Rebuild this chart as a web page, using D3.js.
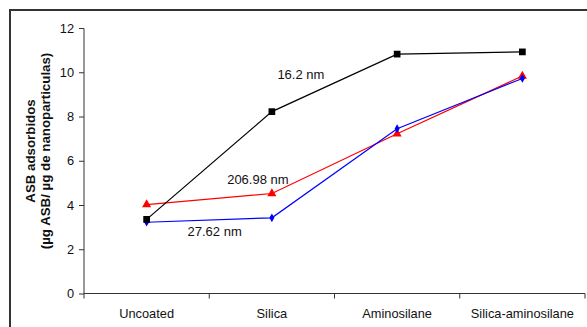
<!DOCTYPE html>
<html><head><meta charset="utf-8">
<script src="https://cdn.jsdelivr.net/npm/d3@7"></script>
<style>body{margin:0;background:#fff}svg{display:block;font-family:"Liberation Sans",Arial,sans-serif}</style>
</head><body><svg id="c" width="587" height="327"></svg>
<script>
const categories = ["Uncoated","Silica","Aminosilane","Silica-aminosilane"];
const yTicks = [0,2,4,6,8,10,12];
const black = [3.35, 8.22, 10.82, 10.92];
const red = [4.02, 4.52, 7.22, 9.83];
const blue = [3.22, 3.42, 7.45, 9.72];
const labels = [
  {text:"16.2 nm", cat:"Silica", v:9.85, dx:29},
  {text:"206.98 nm", cat:"Silica", v:5.1, dx:-14},
  {text:"27.62 nm", cat:"Uncoated", v:2.75, dx:68}
];

const svg = d3.select("#c");
svg.append("rect").attr("x",10).attr("y",10).attr("width",600).attr("height",400)
  .attr("fill","none").attr("stroke","#333").attr("stroke-width",2);

const x = d3.scaleBand().domain(categories).range([84,585]);
const y = d3.scaleLinear().domain([0,12]).range([293.5,28]);

const ya = svg.append("g").attr("transform","translate(84,0)")
  .call(d3.axisLeft(y).tickValues(yTicks).tickSize(5).tickPadding(5));
const xa = svg.append("g").attr("transform","translate(0,293.5)")
  .call(d3.axisBottom(x).tickSize(5).tickPadding(10));
xa.selectAll(".tick line").remove();
const bounds = categories.map(c=>x(c)).concat([x.range()[1]]);
xa.selectAll(".bline").data(bounds).enter().append("line")
  .attr("x1",d=>d).attr("x2",d=>d).attr("y1",0).attr("y2",5).attr("stroke","#333");
[ya,xa].forEach(a=>{
  a.selectAll("path").attr("stroke","#333");
  a.selectAll("line").attr("stroke","#333");
  a.selectAll("text").attr("font-size",12.8).attr("fill","#111").attr("font-family","Liberation Sans, Arial, sans-serif");
});
xa.select(".domain").attr("d","M84,0H585");
ya.select(".domain").attr("d","M-5,28.5H0V293.5");

const cx = c => x(c) + x.bandwidth()/2;

const t = svg.append("g").attr("font-weight","bold").attr("font-size",13.3).attr("fill","#111").attr("text-anchor","middle");
t.append("text").attr("transform","translate(35,151) rotate(-90)").text("ASB adsorbidos");
t.append("text").attr("transform","translate(50,151) rotate(-90)").text("(µg ASB/ µg de nanoparticulas)");

const line = d3.line().x((d,i)=>cx(categories[i])).y(d=>y(d));
function series(vals,color,shape,size){
  svg.append("path").datum(vals).attr("d",line).attr("fill","none").attr("stroke",color).attr("stroke-width",1.2);
  svg.append("g").selectAll("path").data(vals).enter().append("path")
    .attr("transform",(d,i)=>`translate(${cx(categories[i])},${y(d)})`)
    .attr("d",d3.symbol().type(shape).size(size)).attr("fill",color);
}
series(red,"#ff0000",d3.symbolTriangle,36);
series(blue,"#0000ff",d3.symbolDiamond,22);
series(black,"#000000",d3.symbolSquare,45);

svg.append("g").selectAll("text").data(labels).enter().append("text")
  .attr("x",d=>cx(d.cat)+d.dx).attr("y",d=>y(d.v)).attr("text-anchor","middle")
  .attr("dominant-baseline","middle").attr("font-size",13).attr("fill","#111").text(d=>d.text);
</script></body></html>
